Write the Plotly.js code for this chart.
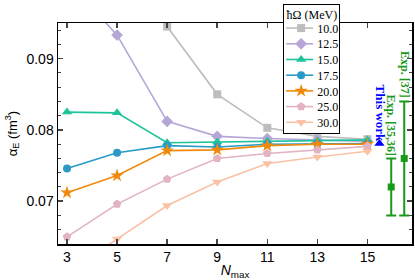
<!DOCTYPE html>
<html>
<head>
<meta charset="utf-8">
<script src="https://cdn.plot.ly/plotly-3.0.1.min.js"></script>
<style>html,body{margin:0;padding:0;background:#fff;}#chart{width:415px;height:280px;}</style>
</head>
<body>
<div id="chart"></div>
<script>
const nmax = [3, 5, 7, 9, 11, 13, 15];
const hwLabels = ["10.0", "12.5", "15.0", "17.5", "20.0", "25.0", "30.0"];
const hw10  = [0.140, 0.115, 0.0945, 0.0850, 0.0803, 0.0791, 0.0787];
const hw125 = [0.101, 0.0933, 0.0812, 0.0791, 0.0788, 0.0786, 0.0784];
const hw15  = [0.0825, 0.0824, 0.0782, 0.0783, 0.0784, 0.0785, 0.0786];
const hw175 = [0.0746, 0.0768, 0.0778, 0.0776, 0.0780, 0.0781, 0.0781];
const hw20  = [0.0712, 0.0736, 0.0771, 0.0772, 0.0778, 0.0780, 0.0780];
const hw25  = [0.0650, 0.0696, 0.0731, 0.0760, 0.0767, 0.0772, 0.0777];
const hw30  = [0.0600, 0.0647, 0.0694, 0.0727, 0.0753, 0.0762, 0.0770];
const thisWorkX = [15.48], thisWorkY = [0.0781];
const expX = [15.95, 16.47];
const expY = [0.0720, 0.0760];
const expErr = [0.0040, 0.0080];
const expLabels = ["Exp. [35,36]", "Exp. [37]"];

const colors = ["#bdbdbd", "#b6a6d6", "#1dc49a", "#2b9bc6", "#f08a0c", "#e2b3c1", "#f9c2a5"];
const symbols = ["square", "diamond", "triangle-up", "circle", "star", "pentagon", "triangle-down"];
const sizes = [8, 9, 9, 8, 10, 9, 9];
const series = [hw10, hw125, hw15, hw175, hw20, hw25, hw30];

const traces = series.map((ys, i) => ({
  x: nmax, y: ys, name: hwLabels[i], type: "scatter", mode: "lines+markers",
  line: {color: colors[i], width: 1.6},
  marker: {color: colors[i], symbol: symbols[i], size: sizes[i]},
  cliponaxis: true
}));
traces.push({
  x: thisWorkX, y: thisWorkY, type: "scatter", mode: "markers", showlegend: false,
  marker: {color: "#0000ff", symbol: "triangle-up", size: 9}
});
traces.push({
  x: expX, y: expY, type: "scatter", mode: "markers", showlegend: false,
  marker: {color: "#1a9a1a", symbol: "square", size: 7},
  error_y: {type: "data", array: expErr, visible: true, color: "#1a9a1a", thickness: 2, width: 5}
});

const annFont = {family: "Liberation Serif", size: 12, color: "#1a9a1a", weight: "bold"};
const layout = {
  width: 415, height: 280,
  margin: {l: 58, r: 3, t: 23, b: 36},
  paper_bgcolor: "#fff", plot_bgcolor: "#fff",
  font: {family: "Liberation Sans", size: 14, color: "#000"},
  xaxis: {
    range: [2.64, 16.78], tickvals: nmax, ticks: "inside", ticklen: 5, tickwidth: 1.5,
    showline: true, linewidth: 1.5, linecolor: "#000", mirror: "ticks", showgrid: false, zeroline: false,
    tickfont: {size: 14},
    title: {text: "<i>N</i><sub>max</sub>", font: {size: 14}, standoff: 4}
  },
  yaxis: {
    range: [0.064, 0.095], tickvals: [0.07, 0.08, 0.09], ticktext: ["0.07", "0.08", "0.09"],
    ticks: "inside", ticklen: 5, tickwidth: 1.5,
    minor: {dtick: 0.002, ticks: "inside", ticklen: 3, tickwidth: 1},
    showline: true, linewidth: 1.5, linecolor: "#000", mirror: "allticks", showgrid: false, zeroline: false,
    tickfont: {size: 14},
    title: {text: "α<sub>E</sub> (fm<sup>3</sup>)", font: {size: 13}, standoff: 6}
  },
  showlegend: true,
  legend: {
    x: 0.636, xanchor: "left", y: 1.086, yanchor: "top",
    bgcolor: "#fff", bordercolor: "#000", borderwidth: 1,
    font: {family: "Liberation Serif", size: 12, color: "#000"},
    title: {text: "ħΩ (MeV)", side: "top right", font: {family: "Liberation Serif", size: 12}},
    itemwidth: 30, tracegroupgap: 0
  },
  annotations: [
    {x: 15.51, y: 0.0824, xref: "x", yref: "y", text: "This work", textangle: 90, showarrow: false,
     font: {family: "Liberation Serif", size: 13, color: "#0000ff", weight: "bold"}},
    {x: expX[0], y: 0.0806, xref: "x", yref: "y", text: expLabels[0], textangle: 90, showarrow: false, font: annFont},
    {x: expX[1], y: 0.0878, xref: "x", yref: "y", text: expLabels[1], textangle: 90, showarrow: false, font: annFont}
  ]
};
const gd = document.getElementById("chart");
Plotly.newPlot(gd, traces, layout, {displayModeBar: false, staticPlot: true}).then(() => {
  const leg = gd.querySelector("g.legend");
  if (!leg) return;
  const items = leg.querySelectorAll("g.traces");
  if (!items.length) return;
  const step = 15.7, shiftY = -7, textShift = -7, bgShift = -11, symShift = -3;
  const m = /translate\(\s*([-\d.]+)[ ,]+([-\d.]+)\s*\)/.exec(items[0].getAttribute("transform") || "");
  if (!m) return;
  const x0 = +m[1], y0 = +m[2] + shiftY;
  items.forEach((el, i) => {
    el.setAttribute("transform", "translate(" + x0 + "," + (y0 + i * step) + ")");
    const t = el.querySelector("text.legendtext");
    if (t) t.setAttribute("x", (+t.getAttribute("x") || 0) + textShift);
    const layers = el.querySelector("g.layers");
    if (layers) layers.setAttribute("transform", "translate(" + symShift + ",0)");
    el.querySelectorAll("g.legendlines path").forEach(p => {
      const d = p.getAttribute("d") || "";
      p.setAttribute("d", d.replace("h30", "h27"));
    });
  });
  const h = y0 + (items.length - 1) * step + step / 2 + 3;
  leg.querySelectorAll("rect.bg").forEach(r => {
    r.setAttribute("height", h);
    const w = +r.getAttribute("width");
    if (w) r.setAttribute("width", w + bgShift);
  });
  const tt = leg.querySelector("text.legendtitletext");
  if (tt) {
    tt.setAttribute("x", (+tt.getAttribute("x") || 0) + bgShift);
    tt.setAttribute("y", (+tt.getAttribute("y") || 0) - 2);
  }
  const sb = leg.querySelector("g.scrollbox");
  if (sb) sb.removeAttribute("clip-path");
  leg.querySelectorAll("rect.scrollbar").forEach(r => r.style.display = "none");
});
</script>
</body>
</html>
